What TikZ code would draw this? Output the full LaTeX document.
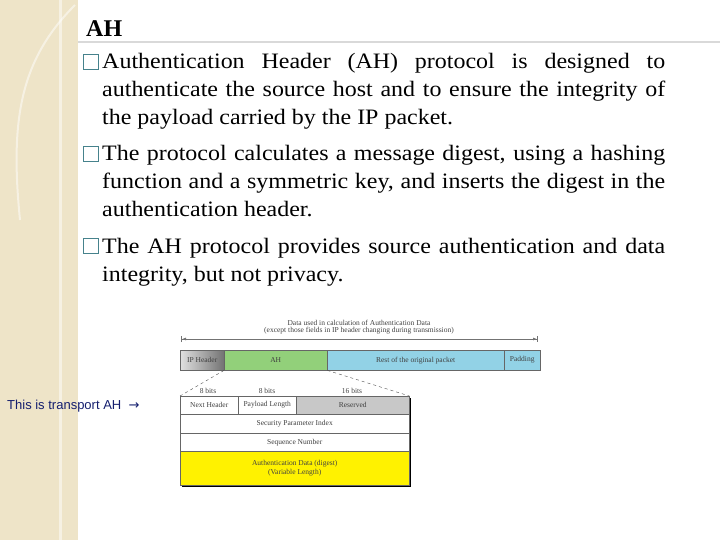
\documentclass[tikz,border=0pt]{standalone}
\usepackage{fontspec}
\setmainfont{Liberation Serif}
\newfontfamily\bodyf[FakeStretch=1.09]{Liberation Serif}
\newfontfamily\sansf{Liberation Sans}
\newfontfamily\dejavu{DejaVu Sans}
\usetikzlibrary{arrows.meta}
\definecolor{strip}{RGB}{238,228,200}
\definecolor{ahgreen}{RGB}{146,208,122}
\definecolor{restblue}{RGB}{146,210,230}
\definecolor{resgray}{RGB}{200,200,200}
\definecolor{bullet}{RGB}{70,130,140}
\definecolor{navy}{RGB}{20,30,110}
\newcommand{\jl}[1]{\makebox[563pt][s]{#1}}
\tikzset{
  line/.style={anchor=base west,inner sep=0pt,font=\bodyf\fontsize{22}{28}\selectfont},
  bul/.style={draw=bullet,line width=1pt,minimum size=15pt,inner sep=0pt},
  fld/.style={draw=black!60,line width=0.4pt,font=\fontsize{7.5}{9}\selectfont,text=black!75,inner sep=0pt},
  small/.style={font=\fontsize{7.5}{9}\selectfont,text=black!75,inner sep=0pt}
}
\begin{document}
\begin{tikzpicture}[x=1pt,y=-1pt]
\useasboundingbox (0,0) rectangle (720,540);
\fill[strip] (0,0) rectangle (78,540);
\draw[white,line width=3pt,opacity=0.5] (60,0) -- (60,540);
\draw[white,line width=2pt,opacity=0.5] (75,5) .. controls (20,60) and (10,120) .. (20,220);
\draw[black!15,line width=1.5pt] (78,42) -- (720,42);
\node[anchor=base west,inner sep=0pt,font=\fontsize{24}{28}\selectfont\bfseries] (title) at (86,37) {AH};
% bullets
\node[bul] (b1) at (91,62) {};
\node[line] (l1) at (102,69) {\jl{Authentication Header (AH) protocol is designed to}};
\node[line] (l2) at (102,97) {\jl{authenticate the source host and to ensure the integrity of}};
\node[line] (l3) at (102,125) {the payload carried by the IP packet.};
\node[bul] (b2) at (91,154) {};
\node[line] (l4) at (102,161) {\jl{The protocol calculates a message digest, using a hashing}};
\node[line] (l5) at (102,189) {\jl{function and a symmetric key, and inserts the digest in the}};
\node[line] (l6) at (102,217) {authentication header.};
\node[bul] (b3) at (91,246) {};
\node[line] (l7) at (102,253) {\jl{The AH protocol provides source authentication and data}};
\node[line] (l8) at (102,281) {integrity, but not privacy.};
% diagram top
\node[small] (d1) at (359,323) {Data used in calculation of Authentication Data};
\node[small] (d2) at (359,331) {(except those fields in IP header changing during transmission)};
\coordinate (al) at (181,339); \coordinate (ar) at (538,339);
\draw[black!55,line width=1pt,{Bar[width=6pt]Latex[length=4pt]}-{Latex[length=4pt]Bar[width=6pt]}] (al) -- (ar);
\shade[left color=black!12,right color=black!55] (180,350) rectangle (224,370);
\node[fld,minimum width=44pt,minimum height=20pt,anchor=north west] (iph) at (180,350) {IP Header};
\node[fld,fill=ahgreen,minimum width=103pt,minimum height=20pt,anchor=north west] (ah) at (224,350) {AH};
\node[fld,fill=restblue,minimum width=177pt,minimum height=20pt,anchor=north west] (rest) at (327,350) {Rest of the original packet};
\node[fld,fill=restblue,minimum width=36pt,minimum height=20pt,anchor=north west] (pad) at (504,350) {Padding};
% lower table
\fill[black] (182,398) rectangle (411,487);
\node[small] (bb1) at (208,391) {8 bits};
\node[small] (bb2) at (267,391) {8 bits};
\node[small] (bb3) at (352,391) {16 bits};
\node[fld,fill=white,minimum width=58pt,minimum height=18pt,anchor=north west] (nh) at (180,396) {Next Header};
\node[fld,fill=white,minimum width=58pt,minimum height=18pt,anchor=north west] (pl) at (238,396) {Payload Length};
\node[fld,fill=resgray,minimum width=113pt,minimum height=18pt,anchor=north west] (res) at (296,396) {Reserved};
\node[fld,fill=white,minimum width=229pt,minimum height=19pt,anchor=north west] (spi) at (180,414) {Security Parameter Index};
\node[fld,fill=white,minimum width=229pt,minimum height=18pt,anchor=north west] (seq) at (180,433) {Sequence Number};
\node[fld,fill=yellow,minimum width=229pt,minimum height=34pt,anchor=north west,align=center] (auth) at (180,451) {Authentication Data (digest)\\(Variable Length)};
\draw[dashed,black!70] (ah.south west) -- (nh.north west);
\draw[dashed,black!70] (ah.south east) -- (res.north east);
\node[anchor=west,inner sep=0pt,text=navy,font=\sansf\fontsize{13}{15}\selectfont] (tr) at (7,406) {This is transport AH \ {\dejavu →}};
\end{tikzpicture}
\end{document}
